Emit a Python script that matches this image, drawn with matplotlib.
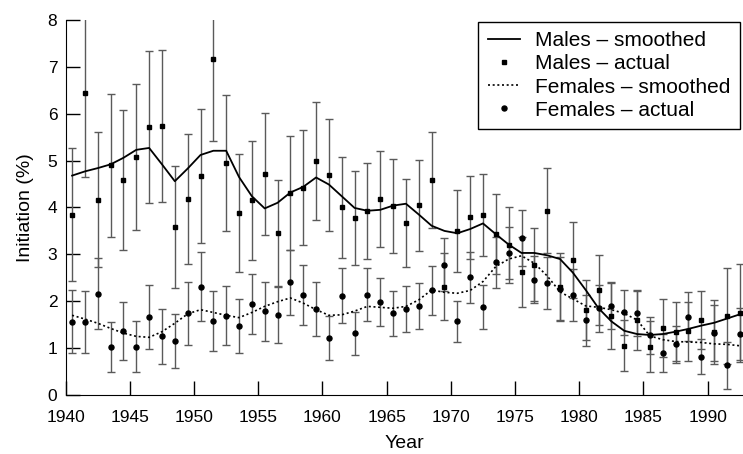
import matplotlib
matplotlib.use("Agg")
import matplotlib.pyplot as plt
import numpy as np

plt.rcParams["font.family"] = ["Liberation Sans", "DejaVu Sans"]

# mid-year positions, 1940.5 .. 1992.5
years = np.arange(1940.5, 1993.0, 1.0)

males_actual = [
    3.85, 6.44, 4.17, 4.90, 4.59, 5.08, 5.72, 5.74, 3.59, 4.18, 4.68, 7.16, 4.94,
    3.89, 4.15, 4.72, 3.45, 4.31, 4.42, 4.99, 4.69, 4.00, 3.77, 3.93, 4.18, 4.03,
    3.66, 4.05, 4.58, 2.31, 3.50, 3.79, 3.84, 3.44, 3.19, 2.62, 2.78, 3.93, 2.31, 2.88,
    1.82, 2.24, 1.69, 1.05, 1.59, 1.03, 1.43, 1.35, 1.36, 1.60, 1.35, 1.69, 1.75,
]
males_err = [
    1.42, 1.80, 1.43, 1.52, 1.49, 1.55, 1.62, 1.62, 1.30, 1.38, 1.43, 1.74, 1.45,
    1.26, 1.26, 1.30, 1.13, 1.21, 1.23, 1.26, 1.20, 1.08, 1.00, 1.02, 1.03, 1.01,
    0.94, 0.97, 1.02, 0.71, 0.87, 0.88, 0.88, 0.85, 0.81, 0.75, 0.78, 0.91, 0.72, 0.81,
    0.64, 0.74, 0.70, 0.54, 0.63, 0.55, 0.62, 0.63, 0.63, 0.62, 0.68, 1.02, 1.05,
]
males_smooth = [
    4.68, 4.77, 4.84, 4.92, 5.06, 5.23, 5.27, 4.92, 4.56, 4.83, 5.12, 5.21, 5.21,
    4.65, 4.24, 3.98, 4.10, 4.32, 4.44, 4.64, 4.49, 4.24, 3.99, 3.93, 3.95, 4.04,
    4.08, 3.85, 3.61, 3.50, 3.45, 3.54, 3.66, 3.43, 3.21, 3.03, 3.03, 2.98, 2.90, 2.61,
    2.24, 1.85, 1.57, 1.37, 1.30, 1.28, 1.30, 1.35, 1.41, 1.48, 1.54, 1.63, 1.72,
]

females_actual = [
    1.56, 1.55, 2.16, 1.03, 1.36, 1.03, 1.66, 1.25, 1.15, 1.74, 2.31, 1.58, 1.69,
    1.47, 1.94, 1.79, 1.71, 2.40, 2.13, 1.83, 1.22, 2.12, 1.32, 2.14, 1.98, 1.74,
    1.84, 1.89, 2.23, 2.78, 1.57, 2.51, 1.88, 2.83, 3.03, 3.35, 2.46, 2.39, 2.26, 2.13,
    1.59, 1.85, 1.90, 1.76, 1.75, 1.27, 0.90, 1.08, 1.67, 0.82, 1.32, 0.63, 1.30,
]
females_err = [
    0.67, 0.66, 0.76, 0.53, 0.62, 0.55, 0.68, 0.58, 0.57, 0.68, 0.74, 0.64, 0.63,
    0.58, 0.64, 0.63, 0.60, 0.69, 0.64, 0.58, 0.47, 0.59, 0.46, 0.57, 0.51, 0.48,
    0.49, 0.49, 0.53, 0.56, 0.44, 0.54, 0.47, 0.55, 0.55, 0.60, 0.50, 0.55, 0.68, 0.55,
    0.55, 0.50, 0.50, 0.48, 0.49, 0.40, 0.40, 0.40, 0.52, 0.37, 0.60, 0.50, 0.55,
]
females_smooth = [
    1.70, 1.62, 1.53, 1.42, 1.32, 1.25, 1.23, 1.35, 1.53, 1.73, 1.82, 1.76, 1.70,
    1.65, 1.76, 1.89, 1.99, 2.07, 1.96, 1.82, 1.70, 1.71, 1.79, 1.89, 1.87, 1.85,
    1.89, 2.03, 2.24, 2.19, 2.17, 2.23, 2.42, 2.74, 2.90, 2.97, 2.81, 2.54, 2.20, 2.05,
    1.90, 1.87, 1.82, 1.74, 1.60, 1.26, 1.18, 1.14, 1.13, 1.12, 1.09, 1.08, 1.05,
]

fig = plt.figure(figsize=(7.43, 4.54), dpi=100)
ax = fig.add_axes([0.0884, 0.130, 0.9116, 0.826])

bar_kw = dict(fmt="none", ecolor="#5a5a5a", elinewidth=1.0, capsize=2.6, capthick=1.0)
ax.errorbar(years, males_actual, yerr=males_err, **bar_kw)
ax.errorbar(years, females_actual, yerr=females_err, **bar_kw)

ax.plot(years, males_smooth, color="black", lw=1.3, label="Males \u2013 smoothed")
ax.plot(years, males_actual, ls="none", marker="s", ms=3.5, color="black",
        label="Males \u2013 actual")
ax.plot(years, females_smooth, color="black", lw=1.2, ls=(0, (1.2, 1.6)),
        label="Females \u2013 smoothed")
ax.plot(years, females_actual, ls="none", marker="o", ms=3.6, color="black",
        label="Females \u2013 actual")

ax.set_xlim(1940, 1992.75)
ax.set_ylim(0, 8)
ax.set_xticks(range(1940, 1991, 5))
ax.set_yticks(range(0, 9))
ax.tick_params(direction="in", length=10, width=1, labelsize=12.5)
ax.tick_params(axis="x", pad=11)
ax.tick_params(axis="y", pad=6)
ax.spines["top"].set_visible(False)
ax.spines["right"].set_visible(False)
ax.set_xlabel("Year", fontsize=14, labelpad=7)
ax.set_ylabel("Initiation (%)", fontsize=14, labelpad=10)

leg = ax.legend(loc="upper left", bbox_to_anchor=(0.609, 0.995), borderaxespad=0,
                fontsize=15, frameon=True, fancybox=False, framealpha=1,
                handlelength=1.55, handletextpad=0.72, labelspacing=0.2,
                borderpad=0.45)
leg.get_frame().set_edgecolor("black")
leg.get_frame().set_linewidth(1.0)

fig.savefig("out.png", dpi=100)
